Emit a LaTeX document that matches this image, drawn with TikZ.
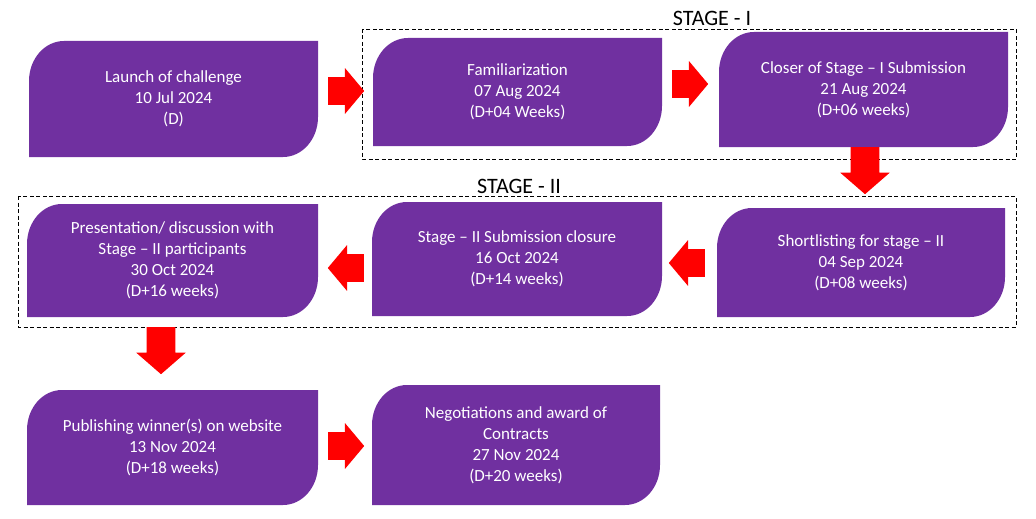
\documentclass[tikz,border=0pt]{standalone}
\usepackage{fontspec}
\setmainfont{Carlito}
\usetikzlibrary{shapes.arrows}
\definecolor{purp}{HTML}{7030A0}
\begin{document}
\begin{tikzpicture}[x=1pt,y=-1pt,
  stepbox/.style={rectangle, inner sep=0pt, draw=none, text=white, align=center,
    font=\fontsize{17}{21}\selectfont,
    path picture={
      \fill[purp] (path picture bounding box.south west)
        -- ([yshift=-40pt]path picture bounding box.north west)
        arc[start angle=180, end angle=90, x radius=35pt, y radius=40pt]
        -- (path picture bounding box.north east)
        -- ([yshift=40pt]path picture bounding box.south east)
        arc[start angle=0, end angle=-90, x radius=35pt, y radius=40pt]
        -- cycle;}},
  blockarrow/.style={single arrow, fill=red, draw=none, inner xsep=0pt, inner ysep=13.75pt,
    minimum height=36pt, single arrow head extend=9pt,
    single arrow tip angle=100, anchor=tail},
  downarrow/.style={blockarrow, minimum height=47pt, inner ysep=0pt, inner xsep=14.25pt,
    single arrow head extend=10.25pt, single arrow tip angle=98, shape border rotate=270},
  stagebox/.style={draw=black, line width=0.9pt, dash pattern=on 4pt off 2.5pt},
  stagelabel/.style={font=\fontsize{22}{26}\selectfont, text=black, inner sep=0pt}
]
\useasboundingbox (0,0) rectangle (1036,519);
\fill[white] (0,0) rectangle (1036,519);

% stage frames
\draw[stagebox] (362,29) rectangle (1016,159);
\draw[stagebox] (18,196) rectangle (1016,327);
\node[stagelabel] (s1) at (712,18) {STAGE - I};
\node[stagelabel] (s2) at (519,186) {STAGE - II};

% boxes
\node[stepbox, minimum width=289pt, minimum height=116pt] (b1) at (173.5,99)
  {Launch of challenge\\10 Jul 2024\\(D)};
\node[stepbox, minimum width=289pt, minimum height=108pt] (b2) at (517.5,92)
  {Familiarization\\07 Aug 2024\\(D+04 Weeks)};
\node[stepbox, minimum width=289pt, minimum height=115pt] (b3) at (863.5,89.5)
  {Closer of Stage -- I Submission\\21 Aug 2024\\(D+06 weeks)};
\node[stepbox, minimum width=288pt, minimum height=109pt] (b4) at (861,262.5)
  {Shortlisting for stage -- II\\04 Sep 2024\\(D+08 weeks)};
\node[stepbox, minimum width=290pt, minimum height=114pt] (b5) at (517,259)
  {Stage -- II Submission closure\\16 Oct 2024\\(D+14 weeks)};
\node[stepbox, minimum width=291pt, minimum height=113pt] (b6) at (172.5,260.5)
  {Presentation/ discussion with\\Stage -- II participants\\30 Oct 2024\\(D+16 weeks)};
\node[stepbox, minimum width=291pt, minimum height=115pt] (b7) at (172.5,447.5)
  {Publishing winner(s) on website\\13 Nov 2024\\(D+18 weeks)};
\node[stepbox, minimum width=288pt, minimum height=120pt] (b8) at (516,445)
  {Negotiations and award of\\Contracts\\27 Nov 2024\\(D+20 weeks)};

% block arrows (placed by their tails)
\node[blockarrow] (a1) at (328,91) {};
\node[blockarrow] (a2) at (672,84) {};
\node[downarrow] (a3) at (865,147) {};
\node[blockarrow, shape border rotate=180] (a4) at (705,263) {};
\node[blockarrow, shape border rotate=180] (a5) at (364,268) {};
\node[downarrow] (a6) at (161,327) {};
\node[blockarrow] (a7) at (328,446) {};
\end{tikzpicture}
\end{document}
